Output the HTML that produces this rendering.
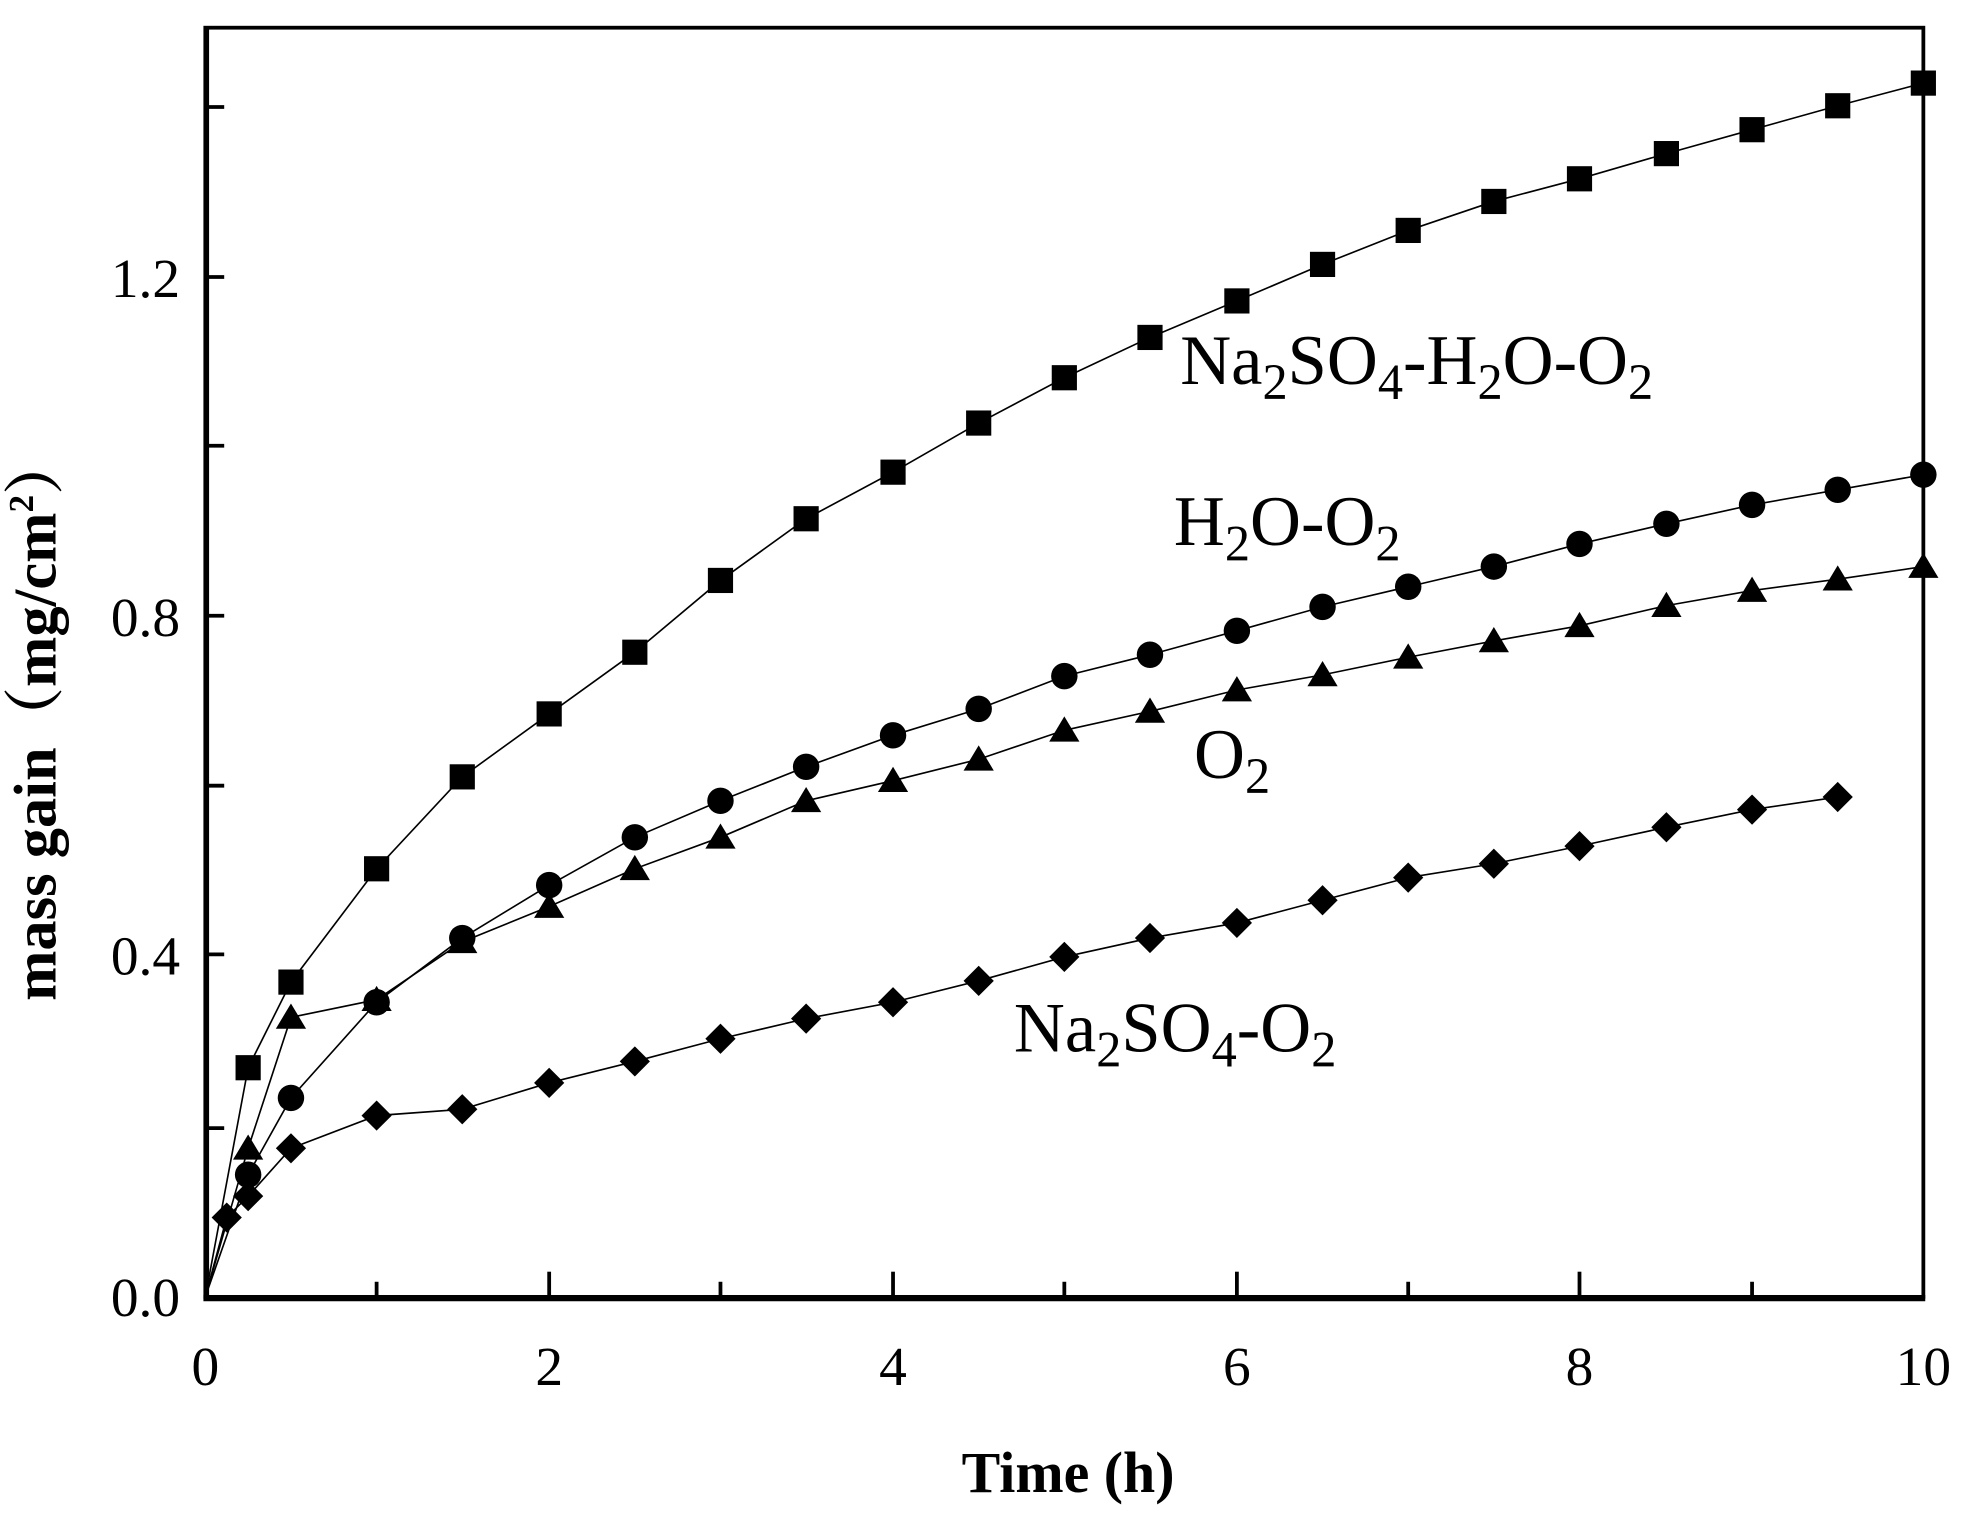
<!DOCTYPE html>
<html><head><meta charset="utf-8"><style>
html,body{margin:0;padding:0;background:#fff;}
svg{display:block;}
text{font-family:"Liberation Serif","Noto Serif CJK SC",serif;fill:#000;}
</style></head><body>
<svg width="1975" height="1521" viewBox="0 0 1568 1208" preserveAspectRatio="none" xmlns="http://www.w3.org/2000/svg">
<defs>
<rect id="sq" x="-10" y="-10" width="20" height="20" fill="#000"/>
<circle id="ci" r="10.5" fill="#000"/>
<polygon id="tr" points="0,-11 12,9 -12,9" fill="#000"/>
<polygon id="di" points="0,-12 12,0 0,12 -12,0" fill="#000"/>
</defs>
<rect x="163" y="22" width="1364" height="1008" fill="none" stroke="#000" stroke-width="3"/>
<line x1="161.5" y1="1031" x2="1528.5" y2="1031" stroke="#000" stroke-width="5"/>
<line x1="164" y1="22" x2="164" y2="1032" stroke="#000" stroke-width="4"/>
<g stroke="#000" stroke-width="3">
<line x1="163" y1="85" x2="178" y2="85"/>
<line x1="163" y1="220" x2="178" y2="220"/>
<line x1="163" y1="354" x2="178" y2="354"/>
<line x1="163" y1="489" x2="178" y2="489"/>
<line x1="163" y1="624" x2="178" y2="624"/>
<line x1="163" y1="758" x2="178" y2="758"/>
<line x1="163" y1="896" x2="178" y2="896"/>
<line x1="299" y1="1030" x2="299" y2="1018"/>
<line x1="436" y1="1030" x2="436" y2="1010"/>
<line x1="572" y1="1030" x2="572" y2="1018"/>
<line x1="709" y1="1030" x2="709" y2="1010"/>
<line x1="845" y1="1030" x2="845" y2="1018"/>
<line x1="982" y1="1030" x2="982" y2="1010"/>
<line x1="1118" y1="1030" x2="1118" y2="1018"/>
<line x1="1254" y1="1030" x2="1254" y2="1010"/>
<line x1="1391" y1="1030" x2="1391" y2="1018"/>
</g>
<g font-size="44" text-anchor="end">
<text x="143" y="1045">0.0</text>
<text x="143" y="774">0.4</text>
<text x="143" y="505">0.8</text>
<text x="143" y="236">1.2</text>
</g>
<g font-size="44" text-anchor="middle">
<text x="163" y="1100">0</text>
<text x="436" y="1100">2</text>
<text x="709" y="1100">4</text>
<text x="982" y="1100">6</text>
<text x="1254" y="1100">8</text>
<text x="1527" y="1100">10</text>
</g>
<text x="848" y="1185" font-size="46" font-weight="bold" text-anchor="middle">Time (h)</text>
<text transform="translate(44,570) rotate(-90)" font-size="48" font-weight="bold" text-anchor="middle">mass gain（mg/cm<tspan font-size="28" dy="-18">2</tspan><tspan dy="18">）</tspan></text>

<g fill="none" stroke="#000" stroke-width="1.3">
<polyline points="163,1030 197,848 231,780 299,690 367,617 436,567 504,518 572,461 640,412 709,375 777,336 845,300 913,268 982,239 1050,210 1118,183 1186,160 1254,142 1323,122 1391,103 1459,84 1527,66"/>
<polyline points="163,1030 197,933 231,872 299,796 367,745 436,703 504,665 572,636 640,609 709,584 777,563 845,537 913,520 982,501 1050,482 1118,466 1186,450 1254,432 1323,416 1391,401 1459,389 1527,377"/>
<polyline points="163,1030 197,912 231,808 299,794 367,748 436,720 504,690 572,665 640,636 709,620 777,603 845,580 913,565 982,548 1050,536 1118,522 1186,509 1254,497 1323,481 1391,469 1459,460 1527,450"/>
<polyline points="163,1030 180,967 197,950 231,912 299,886 367,881 436,860 504,843 572,825 640,809 709,796 777,779 845,760 913,745 982,733 1050,715 1118,697 1186,686 1254,672 1323,657 1391,643 1459,633"/>
</g>
<g>
<use href="#sq" x="197" y="848"/><use href="#sq" x="231" y="780"/><use href="#sq" x="299" y="690"/><use href="#sq" x="367" y="617"/><use href="#sq" x="436" y="567"/><use href="#sq" x="504" y="518"/><use href="#sq" x="572" y="461"/><use href="#sq" x="640" y="412"/><use href="#sq" x="709" y="375"/><use href="#sq" x="777" y="336"/><use href="#sq" x="845" y="300"/><use href="#sq" x="913" y="268"/><use href="#sq" x="982" y="239"/><use href="#sq" x="1050" y="210"/><use href="#sq" x="1118" y="183"/><use href="#sq" x="1186" y="160"/><use href="#sq" x="1254" y="142"/><use href="#sq" x="1323" y="122"/><use href="#sq" x="1391" y="103"/><use href="#sq" x="1459" y="84"/><use href="#sq" x="1527" y="66"/>
<use href="#ci" x="197" y="933"/><use href="#ci" x="231" y="872"/><use href="#ci" x="299" y="796"/><use href="#ci" x="367" y="745"/><use href="#ci" x="436" y="703"/><use href="#ci" x="504" y="665"/><use href="#ci" x="572" y="636"/><use href="#ci" x="640" y="609"/><use href="#ci" x="709" y="584"/><use href="#ci" x="777" y="563"/><use href="#ci" x="845" y="537"/><use href="#ci" x="913" y="520"/><use href="#ci" x="982" y="501"/><use href="#ci" x="1050" y="482"/><use href="#ci" x="1118" y="466"/><use href="#ci" x="1186" y="450"/><use href="#ci" x="1254" y="432"/><use href="#ci" x="1323" y="416"/><use href="#ci" x="1391" y="401"/><use href="#ci" x="1459" y="389"/><use href="#ci" x="1527" y="377"/>
<use href="#tr" x="197" y="912"/><use href="#tr" x="231" y="808"/><use href="#tr" x="299" y="794"/><use href="#tr" x="367" y="748"/><use href="#tr" x="436" y="720"/><use href="#tr" x="504" y="690"/><use href="#tr" x="572" y="665"/><use href="#tr" x="640" y="636"/><use href="#tr" x="709" y="620"/><use href="#tr" x="777" y="603"/><use href="#tr" x="845" y="580"/><use href="#tr" x="913" y="565"/><use href="#tr" x="982" y="548"/><use href="#tr" x="1050" y="536"/><use href="#tr" x="1118" y="522"/><use href="#tr" x="1186" y="509"/><use href="#tr" x="1254" y="497"/><use href="#tr" x="1323" y="481"/><use href="#tr" x="1391" y="469"/><use href="#tr" x="1459" y="460"/><use href="#tr" x="1527" y="450"/>
<use href="#di" x="180" y="967"/><use href="#di" x="197" y="950"/><use href="#di" x="231" y="912"/><use href="#di" x="299" y="886"/><use href="#di" x="367" y="881"/><use href="#di" x="436" y="860"/><use href="#di" x="504" y="843"/><use href="#di" x="572" y="825"/><use href="#di" x="640" y="809"/><use href="#di" x="709" y="796"/><use href="#di" x="777" y="779"/><use href="#di" x="845" y="760"/><use href="#di" x="913" y="745"/><use href="#di" x="982" y="733"/><use href="#di" x="1050" y="715"/><use href="#di" x="1118" y="697"/><use href="#di" x="1186" y="686"/><use href="#di" x="1254" y="672"/><use href="#di" x="1323" y="657"/><use href="#di" x="1391" y="643"/><use href="#di" x="1459" y="633"/>
</g>
<g font-size="56">
<text x="937" y="305">Na<tspan font-size="40" dy="12">2</tspan><tspan dy="-12">SO</tspan><tspan font-size="40" dy="12">4</tspan><tspan dy="-12">-H</tspan><tspan font-size="40" dy="12">2</tspan><tspan dy="-12">O-O</tspan><tspan font-size="40" dy="12">2</tspan></text>
<text x="932" y="433">H<tspan font-size="40" dy="12">2</tspan><tspan dy="-12">O-O</tspan><tspan font-size="40" dy="12">2</tspan></text>
<text x="948" y="618">O<tspan font-size="40" dy="12">2</tspan></text>
<text x="805" y="835">Na<tspan font-size="40" dy="12">2</tspan><tspan dy="-12">SO</tspan><tspan font-size="40" dy="12">4</tspan><tspan dy="-12">-O</tspan><tspan font-size="40" dy="12">2</tspan></text>
</g>
</svg>
</body></html>
